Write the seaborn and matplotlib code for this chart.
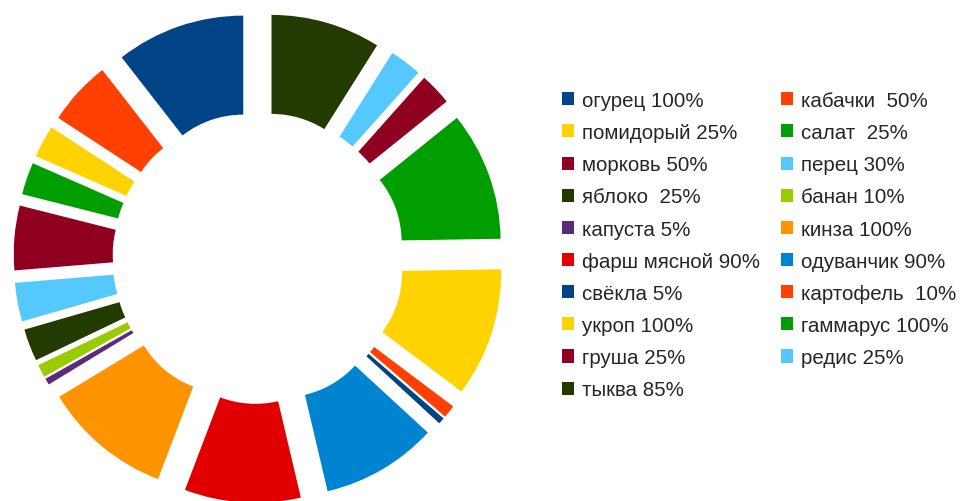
import matplotlib
matplotlib.use("Agg")
import matplotlib.pyplot as plt
import seaborn as sns

# slices, in drawing order (counter-clockwise from 12 o'clock)
labels = [
    "огурец 100%", "кабачки  50%", "помидорый 25%", "салат  25%",
    "морковь 50%", "перец 30%", "яблоко  25%", "банан 10%",
    "капуста 5%", "кинза 100%", "фарш мясной 90%", "одуванчик 90%",
    "свёкла 5%", "картофель  10%", "укроп 100%", "гаммарус 100%",
    "груша 25%", "редис 25%", "тыква 85%",
]
values = [100, 50, 25, 25, 50, 30, 25, 10, 5, 100, 90, 90, 5, 10, 100, 100, 25, 25, 85]
colors = [
    "#004488", "#ff4000", "#ffd300", "#009e00", "#900020", "#55c8ff",
    "#233a00", "#99cc00", "#5b2a7f", "#ff9300", "#e00000", "#0083d0",
    "#004488", "#ff4000", "#ffd300", "#009e00", "#900020", "#55c8ff",
    "#233a00",
]

sns.set_style("white")
plt.rcParams["font.family"] = ["Liberation Sans", "DejaVu Sans"]

W, H = 961, 502
fig = plt.figure(figsize=(W / 100, H / 100), dpi=100)
ax = fig.add_axes([0, 0, 1, 1])

wedges, _ = ax.pie(
    values,
    colors=colors,
    startangle=90,
    counterclock=True,
    explode=[0.237] * len(values),
    wedgeprops=dict(width=0.5, linewidth=0),
)

# pixel geometry: pie centre at (258.5, 259) px, radius 198 px
scale = 198.0
cx, cy = 258.5, 259.0
ax.set_xlim(-cx / scale, (W - cx) / scale)
ax.set_ylim(-(H - cy) / scale, cy / scale)
ax.set_aspect("equal")
ax.axis("off")

# legend is row-major in two columns -> reorder for matplotlib's column fill
order = list(range(0, len(labels), 2)) + list(range(1, len(labels), 2))
ax.legend(
    [wedges[i] for i in order],
    [labels[i] for i in order],
    ncol=2,
    loc="upper left",
    bbox_to_anchor=(562 / W, 1 - 92 / H),
    bbox_transform=fig.transFigure,
    frameon=False,
    fontsize=14.8,
    handlelength=0.6,
    handleheight=0.6,
    handletextpad=0.36,
    labelspacing=0.64,
    columnspacing=1.04,
    borderpad=0,
    borderaxespad=0,
)

fig.savefig("out.png", dpi=100)
